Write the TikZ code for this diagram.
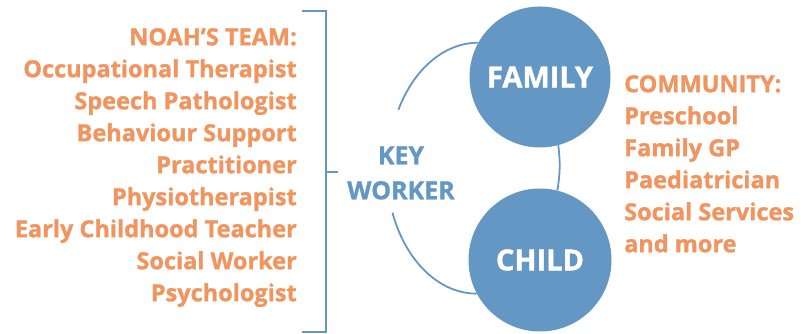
\documentclass[tikz,border=0pt]{standalone}
\usepackage{fontspec}
\setmainfont{Open Sans}[BoldFeatures={FakeBold=1.2}]
\definecolor{org}{HTML}{F0955F}
\definecolor{blu}{HTML}{6597C5}
\begin{document}
\begin{tikzpicture}[x=1pt,y=1pt,
  lbl/.style={text=org,font=\bfseries\fontsize{23.5}{32}\selectfont,inner sep=0pt},
  circ/.style={circle,fill=blu,text=white,font=\bfseries\fontsize{29}{34}\selectfont,inner sep=0pt},
  link/.style={draw=blu,line width=1.8pt},
  brk/.style={draw=blu,line width=2pt}]
\useasboundingbox (0,0) rectangle (812,334);
\node[circ,minimum size=141pt] (fam) at (540,257) {FAMILY};
\node[circ,minimum size=143pt] (child) at (540,74) {CHILD};
\node[text=blu,font=\bfseries\fontsize{25}{35}\selectfont,align=center,inner sep=0pt] (kw) at (401,161) {KEY\\WORKER};
\node[lbl,align=right,anchor=north east] (team) at (297,306) {NOAH’S TEAM:\\Occupational Therapist\\Speech Pathologist\\Behaviour Support \\Practitioner\\Physiotherapist\\Early Childhood Teacher\\Social Worker\\Psychologist};
\node[lbl,align=left,anchor=north west] (comm) at (624,259) {COMMUNITY:\\Preschool\\Family GP\\Paediatrician\\Social Services\\and more};
\coordinate (b1) at (302,323);
\coordinate (b2) at (302,2);
\draw[brk] (b1) -| (326,162) |- (b2);
\draw[brk] (326,162) -- (338,162);
\draw[link] (fam.151) arc[start angle=90,end angle=152.3,x radius=90,y radius=125] coordinate (a1);
\draw[link] (child.208) arc[start angle=270,end angle=200.6,x radius=90,y radius=125] coordinate (a2);
\draw[link] (fam.285) to[bend left=8] (child.76);
\end{tikzpicture}
\end{document}
